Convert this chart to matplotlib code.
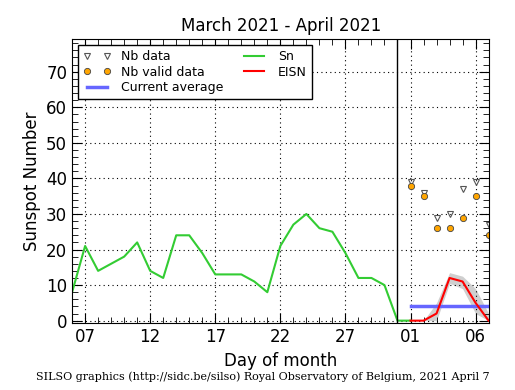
import numpy as np
import matplotlib
matplotlib.use("Agg")
import matplotlib.pyplot as plt
from matplotlib.ticker import MultipleLocator, FixedLocator

# days counted from March 1 (April 1 = 32)
sn_days = np.arange(6, 33)
sn_vals = [8, 21, 14, 16, 18, 22, 14, 12, 24, 24, 19, 13, 13, 13, 11, 8,
           21, 27, 30, 26, 25, 19, 12, 12, 10, 0, 0]

eisn_days = np.arange(32, 39)
eisn_vals = [0, 0, 2, 12, 11, 5, 0]
eisn_low = [0, 0, 0, 10.5, 9, 2, 0]
eisn_high = [0, 0, 5, 13.5, 12.5, 9, 2]

nb_data = [39, 36, 29, 30, 37, 39, 27]
nb_valid = [38, 35, 26, 26, 29, 35, 24]

avg_days = [32, 38]
avg_val = 4

xtick_pos = [7, 12, 17, 22, 27, 32, 37]
xtick_lab = ["07", "12", "17", "22", "27", "01", "06"]

fig = plt.figure(figsize=(5.15, 3.9), dpi=100)
ax = fig.add_axes([0.140, 0.171, 0.810, 0.729])

ax.fill_between(eisn_days, eisn_low, eisn_high, color="#bbbbbb", alpha=0.7, lw=0)
ax.plot(eisn_days, nb_data, ls="none", marker="v", ms=4.5, mfc="none",
        mec="#555555", mew=0.8, label="Nb data")
ax.plot(eisn_days, nb_valid, ls="none", marker="o", ms=4.5, mfc="orange",
        mec="#444444", mew=0.6, label="Nb valid data")
ax.plot(avg_days, [avg_val, avg_val], color="#6666ff", lw=2.5, label="Current average")
ax.plot(sn_days, sn_vals, color="#33cc33", lw=1.5, label="Sn")
ax.plot(eisn_days, eisn_vals, color="red", lw=1.5, label="EISN")
ax.axvline(31, color="black", lw=1)

ax.set_xlim(6, 38.05)
ax.set_ylim(-0.75, 79.2)
ax.xaxis.set_major_locator(FixedLocator(xtick_pos))
ax.set_xticklabels(xtick_lab)
ax.xaxis.set_minor_locator(MultipleLocator(1))
ax.yaxis.set_major_locator(MultipleLocator(10))
ax.yaxis.set_minor_locator(MultipleLocator(2))
ax.tick_params(which="both", direction="in", top=True, right=True, labelsize=12)
ax.tick_params(which="major", length=7)
ax.tick_params(which="minor", length=4)
ax.grid(True, which="major", color="black", ls=(0, (1, 3)), lw=0.8)

ax.set_title("March 2021 - April 2021", fontsize=12)
ax.set_xlabel("Day of month", fontsize=12)
ax.set_ylabel("Sunspot Number", fontsize=12)

leg = ax.legend(loc="upper left", ncol=2, fontsize=9, numpoints=2, fancybox=False,
                framealpha=1, edgecolor="black", borderaxespad=0.5,
                handlelength=2.2, columnspacing=1.4, labelspacing=0.2)
leg.get_frame().set_linewidth(1)

fig.text(0.51, 0.025, "SILSO graphics (http://sidc.be/silso) Royal Observatory of Belgium, 2021 April 7",
         ha="center", fontsize=8, family="DejaVu Serif")

fig.savefig("out.png", dpi=100)
